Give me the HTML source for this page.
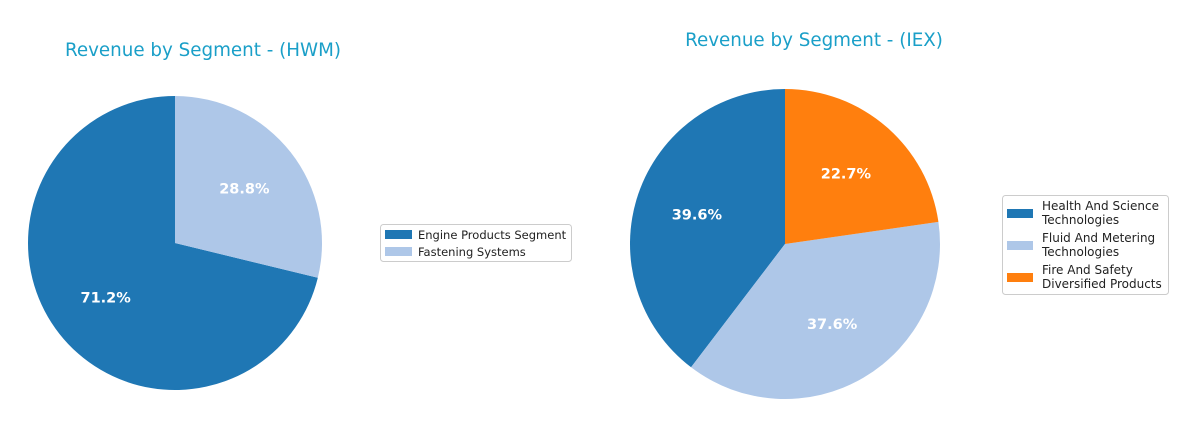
<!DOCTYPE html>
<html><head><meta charset="utf-8"><style>
body{margin:0;background:#fff;font-family:"DejaVu Sans","Liberation Sans",sans-serif}
</style></head><body>
<svg id="c" width="1200" height="430" xmlns="http://www.w3.org/2000/svg"></svg>
<script>
const hwmLabels=["Engine Products Segment","Fastening Systems"];
const hwmValues=[71.2,28.8];
const iexLabels=[["Health And Science","Technologies"],["Fluid And Metering","Technologies"],["Fire And Safety","Diversified Products"]];
const iexValues=[39.6,37.6,22.7];
const colors=["#1f77b4","#aec7e8","#ff7f0e"];
const svg=document.getElementById('c');
const NS="http://www.w3.org/2000/svg";
function mk(t,a,p){const e=document.createElementNS(NS,t);for(const k in a)e.setAttribute(k,a[k]);(p||svg).appendChild(e);return e;}
function pie(cx,cy,r,vals,name){
  const tot=vals.reduce((a,b)=>a+b,0);let ang=90;
  vals.forEach((v,i)=>{
    const sweep=v/tot*360,a0=ang*Math.PI/180,a1=(ang+sweep)*Math.PI/180;
    const x0=cx+r*Math.cos(a0),y0=cy-r*Math.sin(a0),x1=cx+r*Math.cos(a1),y1=cy-r*Math.sin(a1);
    const p=mk('path',{d:`M${cx},${cy} L${x0},${y0} A${r},${r} 0 ${sweep>180?1:0} 0 ${x1},${y1} Z`,fill:colors[i]});
    
    
    const m=(ang+sweep/2)*Math.PI/180;
    const t=mk('text',{x:cx+0.6*r*Math.cos(m),y:cy-0.6*r*Math.sin(m)+5,'text-anchor':'middle',fill:'#fff','font-size':'14.5','font-weight':'bold'});
    t.textContent=v.toFixed(1)+'%';
    
    
    ang+=sweep;
  });
}
function title(x,y,s,name){const t=mk('text',{x:x,y:y,'text-anchor':'middle',fill:'#1a9fc8','font-size':'18.3'});t.textContent=s;

}
title(203,56,"Revenue by Segment - (HWM)","hwm-title");
title(814,46,"Revenue by Segment - (IEX)","iex-title");
pie(175,243,147,hwmValues,'hwm');
pie(785,244,155,iexValues,'iex');
let g=mk('g',{});


mk('rect',{x:380.5,y:224.5,width:191,height:37,rx:3,fill:'#fff',stroke:'#ccc'},g);
hwmLabels.forEach((l,i)=>{
  const y=228+i*17;
  mk('rect',{x:385,y:y+2,width:27,height:9,fill:colors[i]},g);
  const t=mk('text',{x:418,y:y+11,'font-size':'11.5',fill:'#222'},g);t.textContent=l;
  
  
});
g=mk('g',{});


mk('rect',{x:1002.5,y:195.5,width:166,height:99,rx:3,fill:'#fff',stroke:'#ccc'},g);
iexLabels.forEach((l,i)=>{
  const y=199+i*32;
  mk('rect',{x:1007,y:y+10,width:26,height:9,fill:colors[i]},g);
  const t=mk('text',{x:1042,y:y+11,'font-size':'12',fill:'#222'},g);
  
  
  l.forEach((s,j)=>{const ts=mk('tspan',{x:1042,dy:j?14:0},t);ts.textContent=s;});
});
</script>
</body></html>
